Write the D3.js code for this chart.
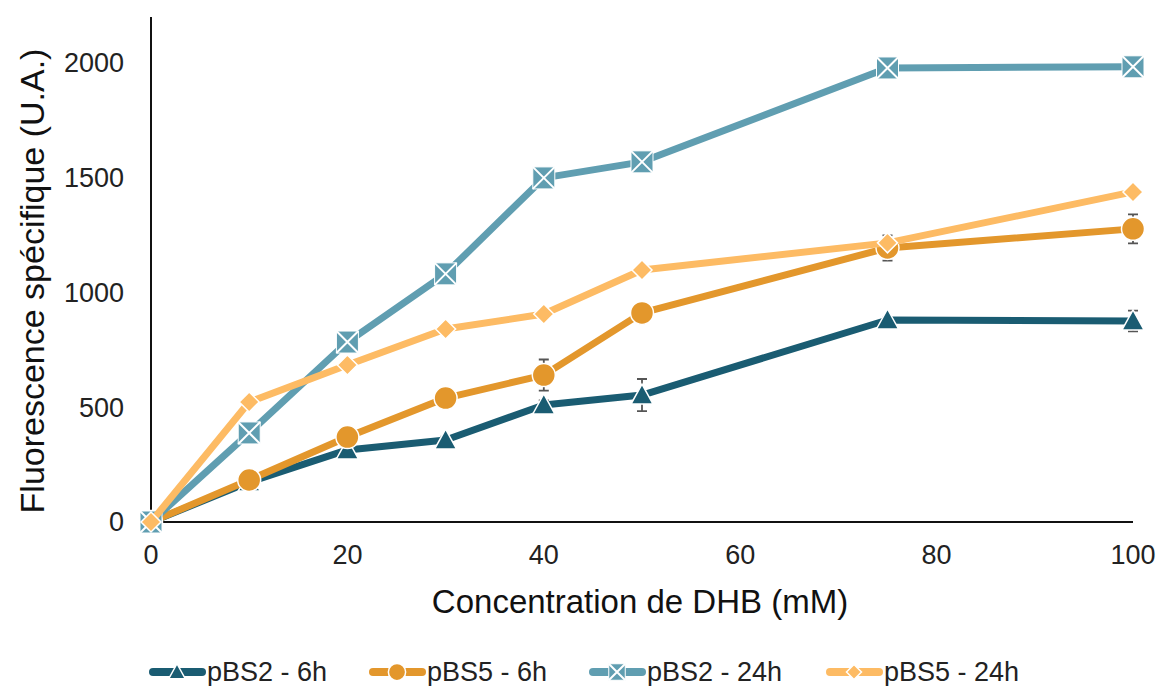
<!DOCTYPE html>
<html><head><meta charset="utf-8">
<script src="https://cdn.jsdelivr.net/npm/d3@7"></script>
<style>body{margin:0;background:#fff;} svg{display:block;font-family:"Liberation Sans",Arial,sans-serif;}</style>
</head><body>
<svg id="c" width="1161" height="686"></svg>
<script>
const concentrations = [0, 10, 20, 30, 40, 50, 75, 100];
const pBS2_6h  = [0, 174, 314, 357, 510, 553, 880, 876];
const pBS2_6h_err = [0, 10, 15, 15, 20, 70, 10, 45];
const pBS5_6h  = [0, 183, 370, 540, 640, 911, 1194, 1277];
const pBS5_6h_err = [0, 10, 15, 15, 68, 20, 55, 63];
const pBS2_24h = [0, 388, 784, 1081, 1499, 1569, 1978, 1983];
const pBS5_24h = [0, 523, 684, 841, 906, 1098, 1216, 1438];
const seriesNames = ["pBS2 - 6h", "pBS5 - 6h", "pBS2 - 24h", "pBS5 - 24h"];
const seriesColors = ["#1a5c72", "#e3972c", "#609eb1", "#fdbb64"];
const seriesMarkers = ["triangle", "circle", "boxx", "diamond"];
const xTicks = [0, 20, 40, 60, 80, 100];
const yTicks = [0, 500, 1000, 1500, 2000];

const series = [
  {name: seriesNames[0], values: pBS2_6h, err: pBS2_6h_err, color: seriesColors[0], marker: seriesMarkers[0]},
  {name: seriesNames[1], values: pBS5_6h, err: pBS5_6h_err, color: seriesColors[1], marker: seriesMarkers[1]},
  {name: seriesNames[2], values: pBS2_24h, err: null, color: seriesColors[2], marker: seriesMarkers[2]},
  {name: seriesNames[3], values: pBS5_24h, err: null, color: seriesColors[3], marker: seriesMarkers[3]},
];

const svg = d3.select("#c");
const x = d3.scaleLinear().domain([0, 100]).range([151, 1133]);
const y = d3.scaleLinear().domain([0, 2200]).range([522, 17]);

// axes lines
svg.append("line").attr("x1", x(0)).attr("x2", x(100)).attr("y1", y(0)).attr("y2", y(0)).attr("stroke", "#111").attr("stroke-width", 2);
svg.append("line").attr("x1", x(0)).attr("x2", x(0)).attr("y1", y(0)).attr("y2", y(2200)).attr("stroke", "#111").attr("stroke-width", 2);

// tick labels
svg.append("g").selectAll("text").data(yTicks).join("text")
  .attr("x", 124).attr("y", d => y(d)).attr("dy", "0.35em").attr("text-anchor", "end")
  .attr("font-size", 27).attr("fill", "#222").text(d => d);
svg.append("g").selectAll("text").data(xTicks).join("text")
  .attr("x", d => x(d)).attr("y", 555).attr("dy", "0.35em").attr("text-anchor", "middle")
  .attr("font-size", 27).attr("fill", "#222").text(d => d);

// titles
svg.append("text").attr("x", x(50) - 2).attr("y", 601).attr("dy", "0.35em").attr("text-anchor", "middle")
  .attr("font-size", 33).attr("fill", "#111").text("Concentration de DHB (mM)");
svg.append("text").attr("transform", "translate(32,281) rotate(-90)").attr("dy", "0.35em").attr("text-anchor", "middle")
  .attr("font-size", 34).attr("fill", "#111").text("Fluorescence spécifique (U.A.)");

function drawMarker(g, type, cx, cy, color, sc) {
  sc = sc || 1;
  if (type === "triangle") {
    g.append("path").attr("d", `M${cx},${cy-11*sc}L${cx+11*sc},${cy+9*sc}L${cx-11*sc},${cy+9*sc}Z`)
      .attr("fill", color).attr("stroke", "#fff").attr("stroke-width", 1.5);
  } else if (type === "circle") {
    g.append("circle").attr("cx", cx).attr("cy", cy).attr("r", 11.5*sc)
      .attr("fill", color).attr("stroke", "#fff").attr("stroke-width", 1.5);
  } else if (type === "boxx") {
    const s = 11*sc;
    g.append("rect").attr("x", cx - s).attr("y", cy - s).attr("width", 2*s).attr("height", 2*s)
      .attr("fill", color).attr("stroke", "#fff").attr("stroke-width", 1);
    g.append("path").attr("d", `M${cx-s},${cy-s}L${cx+s},${cy+s}M${cx+s},${cy-s}L${cx-s},${cy+s}`)
      .attr("stroke", "#fff").attr("stroke-width", 2);
  } else if (type === "diamond") {
    const s = 10*sc;
    g.append("path").attr("d", `M${cx},${cy-s}L${cx+s},${cy}L${cx},${cy+s}L${cx-s},${cy}Z`)
      .attr("fill", color).attr("stroke", "#fff").attr("stroke-width", 1.5);
  }
}

const line = d3.line().x((d, i) => x(concentrations[i])).y(d => y(d));

series.forEach(s => {
  const g = svg.append("g");
  if (s.err) {
    s.values.forEach((v, i) => {
      const e = s.err[i];
      if (!e) return;
      const cx = x(concentrations[i]);
      g.append("path").attr("d", `M${cx},${y(v+e)}V${y(v-e)}M${cx-5},${y(v+e)}H${cx+5}M${cx-5},${y(v-e)}H${cx+5}`)
        .attr("stroke", "#555").attr("stroke-width", 1.8).attr("fill", "none");
    });
  }
  g.append("path").datum(s.values).attr("d", line).attr("fill", "none")
    .attr("stroke", s.color).attr("stroke-width", 7).attr("stroke-linejoin", "round");
  s.values.forEach((v, i) => drawMarker(g, s.marker, x(concentrations[i]), y(v), s.color));
});

// legend
const legX = [150, 370, 590, 827];
const leg = svg.append("g");
series.forEach((s, i) => {
  const lx = legX[i], ly = 672;
  leg.append("line").attr("x1", lx + 3).attr("x2", lx + 52).attr("y1", ly).attr("y2", ly)
    .attr("stroke", s.color).attr("stroke-width", 8).attr("stroke-linecap", "round");
  drawMarker(leg, s.marker, lx + 27, ly, s.color, 0.75);
  leg.append("text").attr("x", lx + 57).attr("y", ly).attr("dy", "0.35em")
    .attr("font-size", 27).attr("fill", "#222").text(s.name);
});
</script>
</body></html>
